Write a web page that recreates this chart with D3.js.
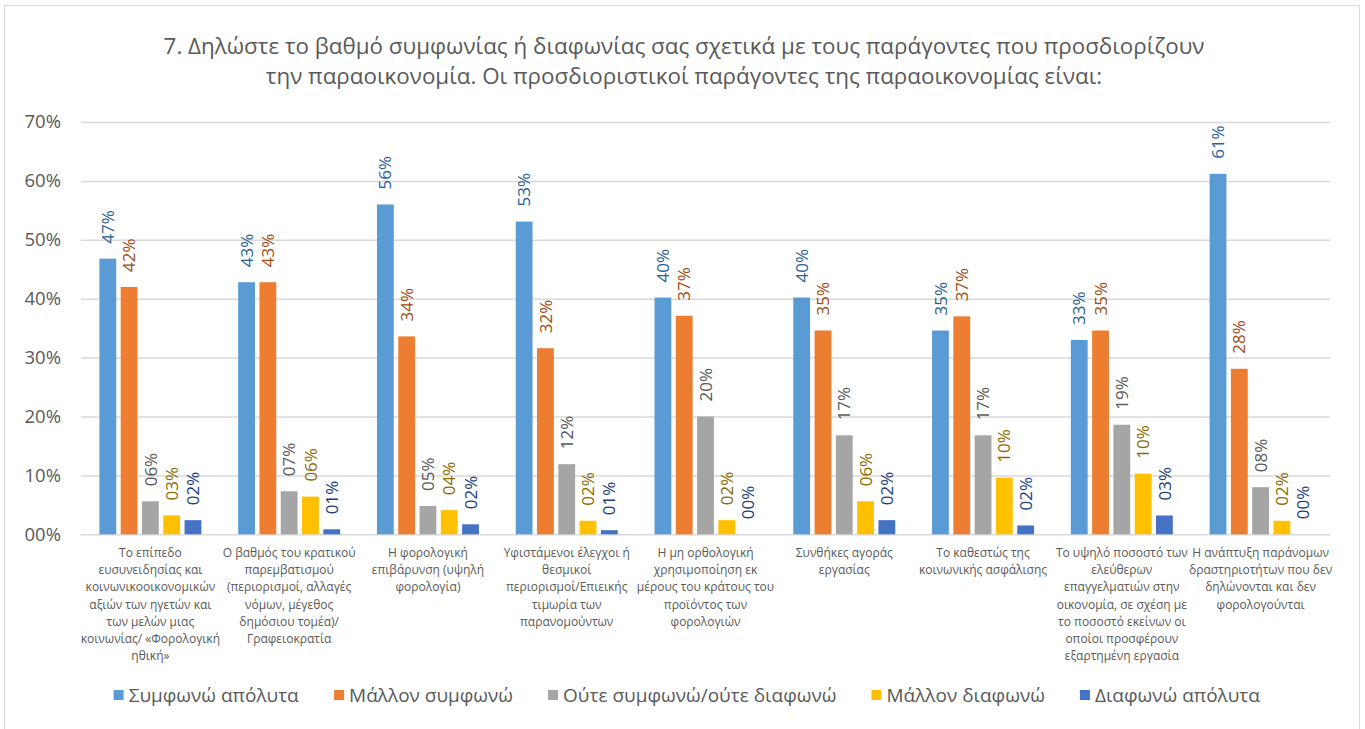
<!DOCTYPE html>
<html>
<head>
<meta charset="utf-8">
<script src="https://cdn.jsdelivr.net/npm/d3@7"></script>
<style>
  html, body { margin: 0; padding: 0; background: #fff; }
  svg { display: block; font-family: "Open Sans", "Noto Sans", sans-serif; }
</style>
</head>
<body>
<svg id="chart" width="1365" height="729"></svg>
<script>
// Survey question 7: agreement with factors that drive the shadow economy (% of respondents)
const titleLines = [
  "7. Δηλώστε το βαθμό συμφωνίας ή διαφωνίας σας σχετικά με τους παράγοντες που προσδιορίζουν",
  "την παραοικονομία. Οι προσδιοριστικοί παράγοντες της παραοικονομίας είναι:"
];

// Category labels, pre-wrapped ("\n" marks a line break)
const categories = [
  "Το επίπεδο\nευσυνειδησίας και\nκοινωνικοοικονομικών\nαξιών των ηγετών και\nτων μελών μιας\nκοινωνίας/ «Φορολογική\nηθική»",
  "Ο βαθμός του κρατικού\nπαρεμβατισμού\n(περιορισμοί, αλλαγές\nνόμων, μέγεθος\nδημόσιου τομέα)/\nΓραφειοκρατία",
  "Η φορολογική\nεπιβάρυνση (υψηλή\nφορολογία)",
  "Υφιστάμενοι έλεγχοι ή\nθεσμικοί\nπεριορισμοί/Επιεικής\nτιμωρία των\nπαρανομούντων",
  "Η μη ορθολογική\nχρησιμοποίηση εκ\nμέρους του κράτους του\nπροϊόντος των\nφορολογιών",
  "Συνθήκες αγοράς\nεργασίας",
  "Το καθεστώς της\nκοινωνικής ασφάλισης",
  "Το υψηλό ποσοστό των\nελεύθερων\nεπαγγελματιών στην\nοικονομία, σε σχέση με\nτο ποσοστό εκείνων οι\nοποίοι προσφέρουν\nεξαρτημένη εργασία",
  "Η ανάπτυξη παράνομων\nδραστηριοτήτων που δεν\nδηλώνονται και δεν\nφορολογούνται"
];

const seriesNames = [
  "Συμφωνώ απόλυτα",
  "Μάλλον συμφωνώ",
  "Ούτε συμφωνώ/ούτε διαφωνώ",
  "Μάλλον διαφωνώ",
  "Διαφωνώ απόλυτα"
];

// Percentages per series, one value per category
const agreeFully    = [46.8, 42.8, 56.0, 53.1, 40.2, 40.2, 34.6, 33.0, 61.2];
const ratherAgree   = [42.0, 42.8, 33.6, 31.6, 37.1, 34.6, 37.0, 34.6, 28.1];
const neutral       = [5.6, 7.3, 4.8, 11.9, 20.0, 16.8, 16.8, 18.6, 8.0];
const ratherDisagree= [3.2, 6.4, 4.1, 2.3, 2.4, 5.6, 9.6, 10.3, 2.3];
const disagreeFully = [2.4, 0.85, 1.7, 0.7, 0.0, 2.4, 1.5, 3.2, 0.0];

const yTicks = [0, 10, 20, 30, 40, 50, 60, 70];

const seriesValues = [agreeFully, ratherAgree, neutral, ratherDisagree, disagreeFully];
const barColors   = ["#5B9BD5", "#ED7D31", "#A5A5A5", "#FFC000", "#4472C4"];
const labelColors = ["#2A5F92", "#A24B12", "#595959", "#8C6B00", "#203F7A"];

const svg = d3.select("#chart");
const textColor = "#595959";

// chart frame
svg.append("rect")
  .attr("x", 4.5).attr("y", 5.5)
  .attr("width", 1355).attr("height", 740)
  .attr("fill", "#fff").attr("stroke", "#d9d9d9").attr("stroke-width", 1);

// title
svg.append("g").selectAll("text").data(titleLines).join("text")
  .attr("x", 684).attr("y", (d, i) => 54 + i * 30)
  .attr("text-anchor", "middle")
  .attr("fill", textColor)
  .attr("font-size", 22.4)
  .text(d => d);

const plot = { left: 81, right: 1330, top: 122, bottom: 534.3 };

const y = d3.scaleLinear().domain([0, 70]).range([plot.bottom, plot.top]);
const x0 = d3.scaleBand().domain(d3.range(categories.length)).range([plot.left, plot.right]).padding(0);
const bw = x0.bandwidth();
const x1 = d3.scaleBand().domain(d3.range(seriesNames.length))
  .range([18.4, bw - 18.4]).paddingInner(0.21).paddingOuter(0);

// gridlines + y axis labels
const yAxis = d3.axisLeft(y).tickValues(yTicks)
  .tickSize(-(plot.right - plot.left))
  .tickPadding(20)
  .tickFormat(d => d3.format("02d")(d) + "%");
const gy = svg.append("g").attr("transform", `translate(${plot.left},0)`).call(yAxis);
gy.select(".domain").remove();
gy.selectAll(".tick line").attr("stroke", "#d9d9d9").attr("stroke-width", 1.5);
gy.selectAll(".tick text")
  .attr("fill", textColor).attr("font-size", 18.5)
  .attr("font-family", "Open Sans, sans-serif");

// bars
const groups = svg.append("g").selectAll("g")
  .data(categories.map((c, i) => i)).join("g")
  .attr("transform", i => `translate(${x0(i)},0)`);

groups.selectAll("rect")
  .data(ci => seriesValues.map((vals, si) => ({ si, v: vals[ci] })))
  .join("rect")
  .attr("x", d => x1(d.si))
  .attr("width", x1.bandwidth())
  .attr("y", d => y(d.v))
  .attr("height", d => plot.bottom - y(d.v))
  .attr("fill", d => barColors[d.si]);

// value labels, rotated, above each bar
const fmt = d3.format("02.0f");
groups.selectAll("text.val")
  .data(ci => seriesValues.map((vals, si) => ({ si, v: vals[ci] })))
  .join("text")
  .attr("class", "val")
  .attr("transform", d => `translate(${x1(d.si) + x1.bandwidth() / 2},${y(d.v) - 15}) rotate(-90)`)
  .attr("dy", "0.36em")
  .attr("text-anchor", "start")
  .attr("fill", d => labelColors[d.si])
  .attr("font-size", 17)
  .text(d => fmt(d.v) + "%");

// category labels
const catG = svg.append("g").selectAll("text")
  .data(categories).join("text")
  .attr("text-anchor", "middle")
  .attr("fill", textColor)
  .attr("font-size", 12);
catG.each(function (d, i) {
  const t = d3.select(this);
  d.split("\n").forEach((line, k) => {
    t.append("tspan")
      .attr("x", x0(i) + bw / 2)
      .attr("y", 557 + k * 17.2)
      .text(line);
  });
});

// legend
const legend = svg.append("g");
const items = legend.selectAll("g").data(seriesNames).join("g");
items.append("rect")
  .attr("width", 10).attr("height", 10)
  .attr("y", -5)
  .attr("fill", (d, i) => barColors[i]);
items.append("text")
  .attr("x", 15).attr("dy", "0.35em")
  .attr("fill", textColor).attr("font-size", 19)
  .text(d => d);
let xpos = 0;
items.each(function () {
  const w = this.getBBox().width;
  d3.select(this).attr("transform", `translate(${xpos},0)`);
  xpos += w + 35;
});
const legendWidth = xpos - 35;
legend.attr("transform", `translate(${687 - legendWidth / 2},695)`);
</script>
</body>
</html>
